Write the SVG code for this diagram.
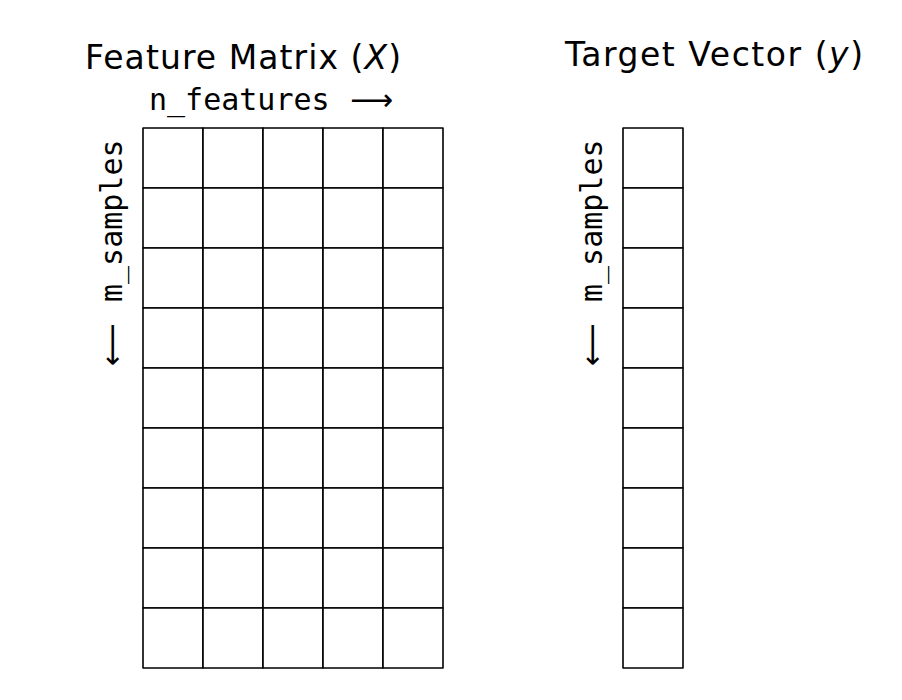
<svg xmlns="http://www.w3.org/2000/svg" width="902" height="700" viewBox="0 0 902 700">
<style>
.bg{fill:#fff}
.cell{fill:#fff;stroke:#000;stroke-width:1.6;stroke-linejoin:round}
.title{font-family:"DejaVu Sans",sans-serif;font-size:33px;fill:#000}
.mono{font-family:"DejaVu Sans Mono",monospace;font-size:30px;fill:#000}
.arr{font-family:"DejaVu Sans",sans-serif}
.it{font-style:italic}
</style>
<defs>
<g id="row5">
<rect class="cell" x="0" y="0" width="60" height="60"/>
<rect class="cell" x="60" y="0" width="60" height="60"/>
<rect class="cell" x="120" y="0" width="60" height="60"/>
<rect class="cell" x="180" y="0" width="60" height="60"/>
<rect class="cell" x="240" y="0" width="60" height="60"/>
</g>
<rect id="cell1" class="cell" x="0" y="0" width="60" height="60"/>
</defs>
<rect class="bg" x="0" y="0" width="902" height="700"/>
<g id="feature-matrix">
<text class="title" x="85" y="69" textLength="316" lengthAdjust="spacing">Feature Matrix (<tspan class="it">X</tspan>)</text>
<text class="mono" x="149" y="110">n_features <tspan class="arr" x="350">⟶</tspan></text>
<text class="mono" transform="translate(122,366) rotate(-90)"><tspan class="arr">⟵</tspan> <tspan x="64">m_samples</tspan></text>
<use href="#row5" x="143" y="128"/>
<use href="#row5" x="143" y="188"/>
<use href="#row5" x="143" y="248"/>
<use href="#row5" x="143" y="308"/>
<use href="#row5" x="143" y="368"/>
<use href="#row5" x="143" y="428"/>
<use href="#row5" x="143" y="488"/>
<use href="#row5" x="143" y="548"/>
<use href="#row5" x="143" y="608"/>
</g>
<g id="target-vector">
<text class="title" x="565" y="66" textLength="298" lengthAdjust="spacing">Target Vector (<tspan class="it">y</tspan>)</text>
<text class="mono" transform="translate(602,366) rotate(-90)"><tspan class="arr">⟵</tspan> <tspan x="64">m_samples</tspan></text>
<use href="#cell1" x="623" y="128"/>
<use href="#cell1" x="623" y="188"/>
<use href="#cell1" x="623" y="248"/>
<use href="#cell1" x="623" y="308"/>
<use href="#cell1" x="623" y="368"/>
<use href="#cell1" x="623" y="428"/>
<use href="#cell1" x="623" y="488"/>
<use href="#cell1" x="623" y="548"/>
<use href="#cell1" x="623" y="608"/>
</g>
<g id="connectors"></g>
</svg>
